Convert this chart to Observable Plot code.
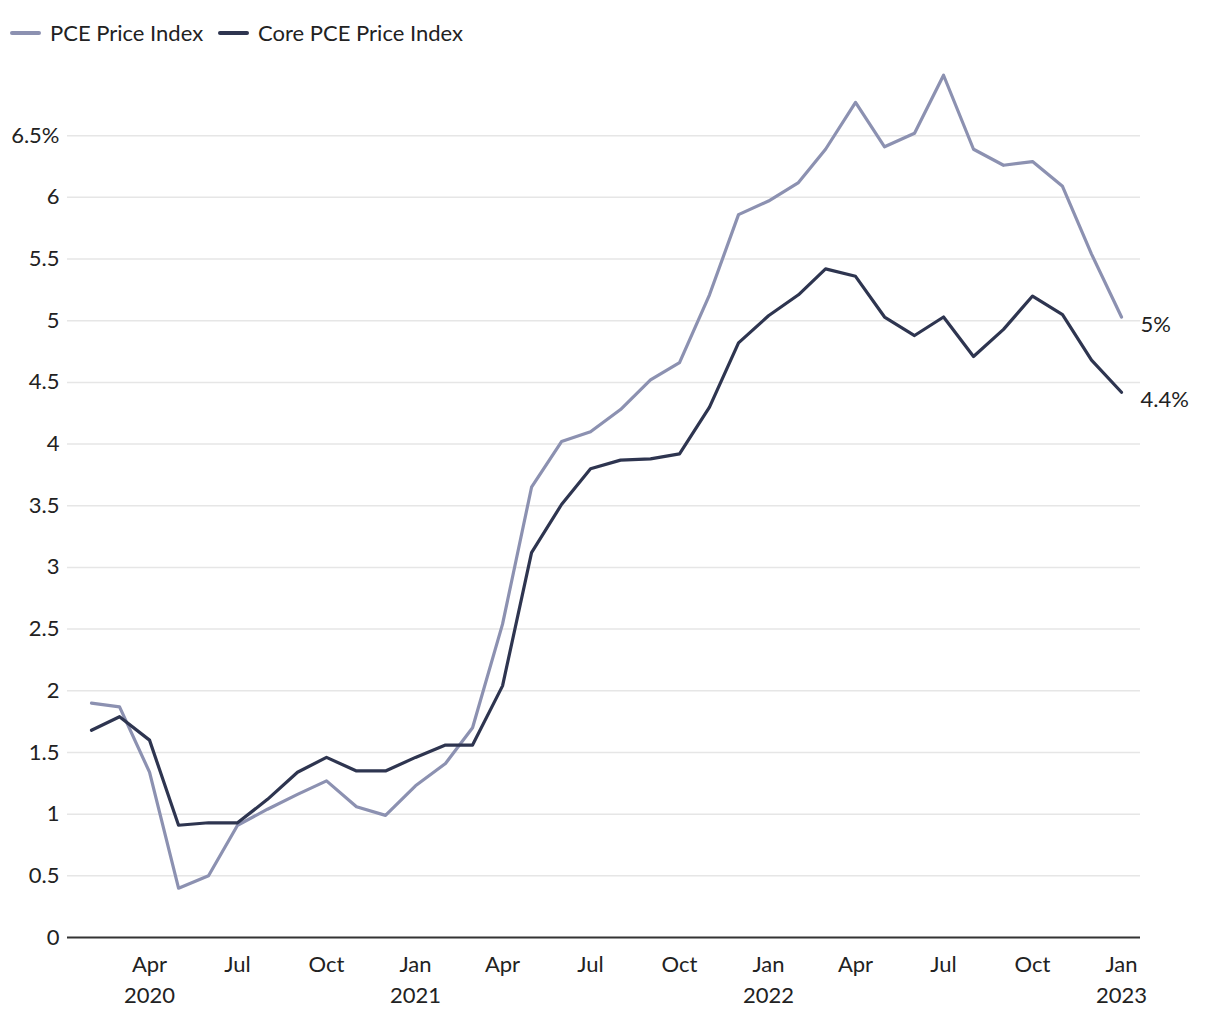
<!DOCTYPE html>
<html><head><meta charset="utf-8">
<script src="https://cdn.jsdelivr.net/npm/d3@7"></script>
<script src="https://cdn.jsdelivr.net/npm/@observablehq/plot@0.6"></script>
<style>
body{margin:0;background:#fff;font-family:Lato,"Noto Sans",sans-serif;color:#222;}
#legend{height:35px;padding-top:21px;display:flex;align-items:flex-start;padding-left:10px;font-size:22px;line-height:24px;}
.item{display:flex;align-items:center;margin-right:15px;}
.sw{display:inline-block;width:31px;height:4px;border-radius:2px;margin-right:9px;}
</style></head><body>
<div id="legend"></div>
<div id="chart"></div>
<script>
const months = ["2020-02","2020-03","2020-04","2020-05","2020-06","2020-07","2020-08","2020-09","2020-10","2020-11","2020-12",
"2021-01","2021-02","2021-03","2021-04","2021-05","2021-06","2021-07","2021-08","2021-09","2021-10","2021-11","2021-12",
"2022-01","2022-02","2022-03","2022-04","2022-05","2022-06","2022-07","2022-08","2022-09","2022-10","2022-11","2022-12",
"2023-01"];
const pce = [1.90,1.87,1.34,0.40,0.50,0.91,1.04,1.16,1.27,1.06,0.99,1.23,1.41,1.70,2.54,3.65,4.02,4.10,4.28,4.52,4.66,5.21,5.86,5.97,6.12,6.39,6.77,6.41,6.52,6.99,6.39,6.26,6.29,6.09,5.54,5.03];
const core = [1.68,1.79,1.60,0.91,0.93,0.93,1.12,1.34,1.46,1.35,1.35,1.46,1.56,1.56,2.04,3.12,3.51,3.80,3.87,3.88,3.92,4.30,4.82,5.04,5.21,5.42,5.36,5.03,4.88,5.03,4.71,4.93,5.20,5.05,4.68,4.42];
const seriesNames = ["PCE Price Index","Core PCE Price Index"];
const seriesColors = ["#8c91b1","#2e3550"];
const endLabels = ["5%","4.4%"];
const yTicks = [0,0.5,1,1.5,2,2.5,3,3.5,4,4.5,5,5.5,6,6.5];
const xTickDates = ["2020-04","2020-07","2020-10","2021-01","2021-04","2021-07","2021-10","2022-01","2022-04","2022-07","2022-10","2023-01"];
const xTickLabels = ["Apr\n2020","Jul","Oct","Jan\n2021","Apr","Jul","Oct","Jan\n2022","Apr","Jul","Oct","Jan\n2023"];

const parse = m => new Date(m + "-01T00:00:00Z");
const seriesValues = [pce, core];
const rows = seriesValues.flatMap((vals, s) => months.map((m, i) => ({date: parse(m), value: vals[i], series: seriesNames[s]})));
const lastRows = seriesValues.map((vals, s) => ({date: parse(months[months.length-1]), value: vals[vals.length-1], label: endLabels[s], series: seriesNames[s]}));
const xTicks = xTickDates.map(parse);
const labelMap = new Map(xTicks.map((d, i) => [+d, xTickLabels[i]]));

const legend = document.getElementById("legend");
seriesNames.forEach((n, i) => {
  const it = document.createElement("div"); it.className = "item";
  const sw = document.createElement("span"); sw.className = "sw"; sw.style.background = seriesColors[i];
  const t = document.createElement("span"); t.textContent = n;
  it.append(sw, t); legend.append(it);
});

const chart = Plot.plot({
  width: 1220, height: 964,
  marginLeft: 67, marginRight: 80, marginTop: 17.5, marginBottom: 83,
  style: {fontFamily: "Lato, 'Noto Sans', sans-serif", fontSize: "22px", color: "#222", background: "white", overflow: "visible"},
  x: {type: "utc", domain: [parse(months[0]), parse(months[months.length-1])], insetLeft: 24, insetRight: 19},
  y: {domain: [0, 7]},
  color: {domain: seriesNames, range: seriesColors},
  marks: [
    Plot.ruleY(yTicks.filter(d => d > 0), {stroke: "#e6e6e6", strokeWidth: 1.5}),
    Plot.axisY({ticks: yTicks, tickSize: 0, tickPadding: 8, label: null, tickFormat: d => d === 6.5 ? "6.5%" : String(d)}),
    Plot.axisX({ticks: xTicks, tickSize: 0, tickPadding: 12, label: null, lineHeight: 1.42, tickFormat: d => labelMap.get(+d)}),
    Plot.ruleY([0], {stroke: "#333", strokeWidth: 2}),
    Plot.line(rows, {x: "date", y: "value", z: "series", stroke: "series", strokeWidth: 3.2}),
    Plot.text(lastRows, {x: "date", y: "value", text: "label", textAnchor: "start", dx: 19, dy: 8, fill: "#222"})
  ]
});
document.getElementById("chart").append(chart);
</script>
</body></html>
